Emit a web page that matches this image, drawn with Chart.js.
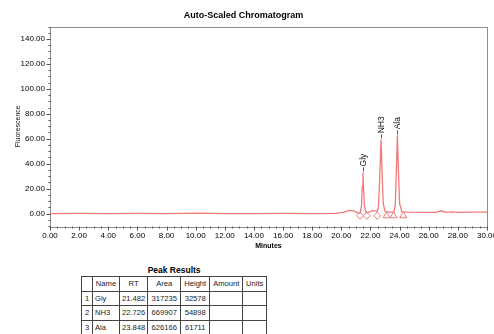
<!DOCTYPE html>
<html>
<head>
<meta charset="utf-8">
<script src="https://cdn.jsdelivr.net/npm/chart.js@4.4.1/dist/chart.umd.min.js"></script>
<style>
  body { margin:0; width:494px; height:334px; overflow:hidden; position:relative; background:#fff;
         font-family:"Liberation Sans", Arial, sans-serif; }
  #wrap { position:absolute; left:0; top:0; width:494px; height:252px; }
  #peaks { position:absolute; left:81px; top:265px; }
  #peaks .cap { text-align:center; font-weight:bold; font-size:8.5px; height:11px; line-height:11px; color:#000; }
  #peaks table { border-collapse:collapse; font-size:7.6px; color:#222; }
  #peaks td { border:1px solid #444; height:13.5px; padding:0 2px; text-align:center; white-space:nowrap; }
  #peaks td.name { text-align:left; }
</style>
</head>
<body>
<div id="wrap"><canvas id="chrom" width="494" height="252"></canvas></div>
<div id="peaks">
  <div class="cap">Peak Results</div>
  <table id="peakTable"></table>
</div>
<script>
// trace (minutes / fluorescence)
var traceTime = [0, 2, 4, 6, 8, 10.3, 12, 14, 16, 18, 19.6, 20.2, 20.55, 20.85, 21.1, 21.3, 21.38, 21.44, 21.482, 21.52, 21.58, 21.68,
                 21.9, 22.1, 22.3, 22.45, 22.55, 22.64, 22.726, 22.8, 22.88, 23.0, 23.3, 23.6, 23.7, 23.78, 23.848, 23.92, 24.0, 24.15,
                 24.5, 25.5, 26.5, 26.85, 27.2, 27.6, 28, 29, 30];
var traceSignal = [0, 0.2, 0, 0.1, 0, 0.3, 0, 0, 0.1, 0, 0.2, 1.2, 2.6, 2.2, 0.6, 0.8, 6, 22, 33, 22, 7, 1.2,
                   1.2, 2.2, 2.4, 1.5, 5, 30, 59.5, 32, 8, 1.8, 1.2, 1.2, 6, 35, 62.7, 34, 8, 1.5,
                   1.2, 1.0, 1.0, 2.2, 1.0, 1.3, 1.0, 1.2, 1.2];

var peakNames = ["Gly", "NH3", "Ala"];
var peakRT = [21.482, 22.726, 23.848];
var peakArea = [317235, 669907, 626166];
var peakHeight = [32578, 54898, 61711];
var peakTop = [33, 59.5, 62.7];

// baseline markers under the peaks
var diamondTimes = [21.28, 21.74, 22.47];
var triangleTimes = [23.11, 23.59, 24.25];
var markerLevel = -1.8;

var xTickLabels = [0, 2, 4, 6, 8, 10, 12, 14, 16, 18, 20, 22, 24, 26, 28, 30];
var yTickLabels = [0, 20, 40, 60, 80, 100, 120, 140];

var lineColor = "#f07a7a";

var tracePoints = traceTime.map(function(t, i){ return {x:t, y:traceSignal[i]}; });
var diamondPoints = diamondTimes.map(function(t){ return {x:t, y:markerLevel}; });
var trianglePoints = triangleTimes.map(function(t){ return {x:t, y:markerLevel}; });

// frame, minor ticks and peak labels
var decorPlugin = {
    id: "decor",
    beforeDatasetsDraw: function(chart){
        var ctx = chart.ctx, a = chart.chartArea;
        var xs = chart.scales.x, ys = chart.scales.y;
        ctx.save();
        ctx.strokeStyle = "#8c8c8c";
        ctx.lineWidth = 1;
        ctx.strokeRect(Math.round(a.left)+0.5, Math.round(a.top)+0.5, Math.round(a.right-a.left), Math.round(a.bottom-a.top));
        ctx.strokeStyle = "#555";
        ctx.beginPath();
        for(var v = 0; v <= 30.001; v += 0.5){
            var px = Math.round(xs.getPixelForValue(v)) + 0.5;
            var len = (Math.abs(v/2 - Math.round(v/2)) < 1e-6) ? 4 : 2;
            ctx.moveTo(px, Math.round(a.bottom)+0.5);
            ctx.lineTo(px, Math.round(a.bottom)+0.5+len);
        }
        for(var w = -10; w <= 150; w += 5){
            var py = Math.round(ys.getPixelForValue(w)) + 0.5;
            var l2 = (w % 20 === 0) ? 4 : 2;
            ctx.moveTo(Math.round(a.left)+0.5, py);
            ctx.lineTo(Math.round(a.left)+0.5-l2, py);
        }
        ctx.stroke();
        ctx.restore();
    },
    afterDatasetsDraw: function(chart){
        var ctx = chart.ctx;
        var xs = chart.scales.x, ys = chart.scales.y;
        ctx.save();
        ctx.strokeStyle = "#555";
        ctx.fillStyle = "#111";
        ctx.font = "8.5px 'Liberation Sans', Arial, sans-serif";
        ctx.textBaseline = "middle";
        ctx.textAlign = "left";
        for(var i = 0; i < peakNames.length; i++){
            var px = Math.round(xs.getPixelForValue(peakRT[i])) + 0.5;
            var py = ys.getPixelForValue(peakTop[i]);
            ctx.beginPath();
            ctx.moveTo(px, py - 1);
            ctx.lineTo(px, py - 5);
            ctx.stroke();
            ctx.save();
            ctx.translate(px, py - 6);
            ctx.rotate(-Math.PI/2);
            ctx.fillText(peakNames[i], 0, 0);
            ctx.restore();
        }
        ctx.restore();
    }
};

var tickFont = {family:"'Liberation Sans', Arial, sans-serif", size:8};

new Chart(document.getElementById("chrom"), {
    type: "scatter",
    data: {
        datasets: [{
            data: tracePoints,
            showLine: true,
            borderColor: lineColor,
            borderWidth: 1.3,
            pointRadius: 0,
            tension: 0
        },{
            data: diamondPoints,
            pointStyle: "rectRot",
            pointRadius: 3.5,
            borderColor: lineColor,
            backgroundColor: "#fff",
            borderWidth: 1
        },{
            data: trianglePoints,
            pointStyle: "triangle",
            pointRadius: 4,
            borderColor: lineColor,
            backgroundColor: "#fff",
            borderWidth: 1
        }]
    },
    options: {
        responsive: false,
        animation: false,
        layout: { padding: {top:0, left:0, right:7, bottom:0} },
        plugins: {
            legend: { display:false },
            tooltip: { enabled:false },
            title: {
                display: true,
                text: "Auto-Scaled Chromatogram",
                color: "#000",
                font: {family:"'Liberation Sans', Arial, sans-serif", size:9, weight:"bold", lineHeight:1.2},
                padding: {top:10, bottom:5.7}
            }
        },
        scales: {
            x: {
                type: "linear",
                min: 0, max: 30,
                afterBuildTicks: function(s){ s.ticks = xTickLabels.map(function(v){ return {value:v}; }); },
                afterFit: function(s){ s.height = 26; s.paddingLeft = 0; s.paddingRight = 0; },
                grid: { display:false, drawTicks:true, tickLength:4 },
                border: { display:false },
                ticks: { color:"#000", font:tickFont, padding:1, maxRotation:0, autoSkip:false,
                         callback: function(v){ return Number(v).toFixed(2); } },
                title: { display:true, text:"Minutes", color:"#000",
                         font:{family:"'Liberation Sans', Arial, sans-serif", size:7, weight:"bold"}, padding:{top:0, bottom:1.5} }
            },
            y: {
                min: -10, max: 150,
                afterBuildTicks: function(s){ s.ticks = yTickLabels.map(function(v){ return {value:v}; }); },
                afterFit: function(s){ s.width = 50; s.paddingTop = 0; s.paddingBottom = 0; },
                grid: { display:false, drawTicks:true, tickLength:4 },
                border: { display:false },
                ticks: { color:"#000", font:tickFont, padding:1, autoSkip:false,
                         callback: function(v){ return Number(v).toFixed(2); } },
                title: { display:true, text:"Fluorescence", color:"#111",
                         font:{family:"'Liberation Sans', Arial, sans-serif", size:7}, padding:{top:14, bottom:0} }
            }
        }
    },
    plugins: [decorPlugin]
});

// results table
var table = document.getElementById("peakTable");
var head = ["", "Name", "RT", "Area", "Height", "Amount", "Units"];
var colW = [6, 22, 23, 28, 24, 28, 19];
var html = "<tr>";
for(let c = 0; c < head.length; c++){
    html += '<td style="width:' + colW[c] + 'px">' + head[c] + "</td>";
}
html += "</tr>";
for(let i = 0; i < peakNames.length; i++){
    html += "<tr><td>" + (i+1) + '</td><td class="name">' + peakNames[i] + "</td><td>" + peakRT[i].toFixed(3) +
            "</td><td>" + peakArea[i] + "</td><td>" + peakHeight[i] + "</td><td></td><td></td></tr>";
}
table.innerHTML = html;
</script>
</body>
</html>
